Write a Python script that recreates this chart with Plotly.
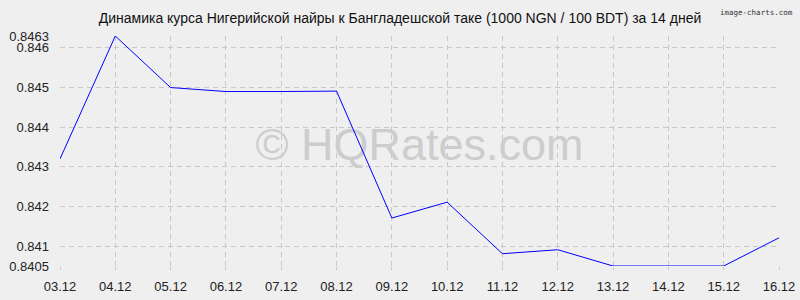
import plotly.graph_objects as go

dates = ["03.12", "04.12", "05.12", "06.12", "07.12", "08.12", "09.12",
         "10.12", "11.12", "12.12", "13.12", "14.12", "15.12", "16.12"]
rates = [0.8432, 0.8463, 0.8450, 0.8449, 0.8449, 0.84491, 0.84171,
         0.84211, 0.84081, 0.84091, 0.8405, 0.8405, 0.8405, 0.84121]
y_ticks = [0.8405, 0.841, 0.842, 0.843, 0.844, 0.845, 0.846, 0.8463]
y_tick_text = ["0.8405", "0.841", "0.842", "0.843", "0.844", "0.845", "0.846", "0.8463"]
title = "Динамика курса Нигерийской найры к Бангладешской таке (1000 NGN / 100 BDT) за 14 дней"
watermark = "© HQRates.com"

xs = list(range(len(dates)))
y_min, y_max = 0.8405, 0.8463

font = "Liberation Sans, Arial, sans-serif"
fig = go.Figure()
# watermark drawn first so the line sits on top of it
fig.add_trace(go.Scatter(x=[(len(dates) - 1) / 2], y=[(y_min + y_max) / 2 + 0.00005],
                         mode="text", text=[watermark], hoverinfo="skip",
                         textfont=dict(family=font, size=45, color="#cdcdcd")))
fig.add_trace(go.Scatter(x=xs, y=rates, mode="lines",
                         line=dict(color="#0000ff", width=1), hoverinfo="skip"))

fig.update_layout(
    width=800, height=300,
    margin=dict(l=60, r=21, t=36, b=34, autoexpand=False),
    paper_bgcolor="#efefef", plot_bgcolor="#efefef",
    showlegend=False,
    font=dict(family=font, size=13, color="#222222"),
    title=dict(text=title, x=0.5, xanchor="center", y=0.94, yanchor="middle",
               font=dict(family=font, size=14, color="#111111"), automargin=False),
    xaxis=dict(range=[0, len(dates) - 1], tickvals=xs, ticktext=dates,
               showgrid=True, gridcolor="#c8c8c8", griddash="5px,4px", gridwidth=1,
               zeroline=False, showline=False, ticks="outside", ticklen=3,
               ticklabelstandoff=5, automargin=False,
               tickcolor="#c8c8c8", tickfont=dict(size=13, color="#222222")),
    yaxis=dict(range=[y_min, y_max], tickvals=y_ticks, ticktext=y_tick_text,
               showgrid=True, gridcolor="#c8c8c8", griddash="5px,4px", gridwidth=1,
               zeroline=False, showline=False, ticks="", ticklabelstandoff=10,
               automargin=False, tickfont=dict(size=13, color="#222222")),
)
fig.add_annotation(text="image-charts.com", xref="paper", yref="paper",
                   x=1.0, y=1.0, yshift=24, xshift=16, xanchor="right", yanchor="middle",
                   showarrow=False, font=dict(family="DejaVu Sans Mono, monospace", size=7.5, color="#333333"))
fig.write_html("out.html")
